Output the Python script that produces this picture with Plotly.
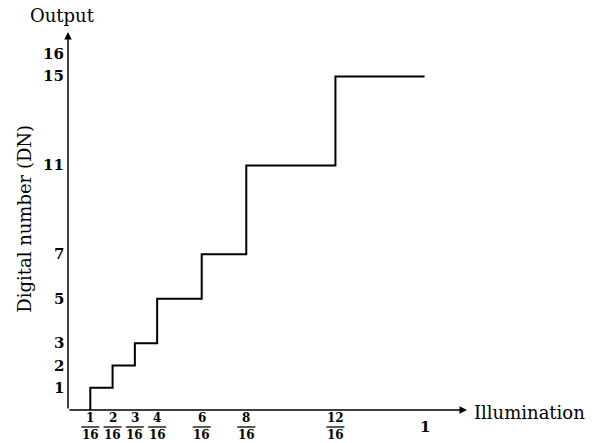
import plotly.graph_objects as go

# Data
step_numerators = [1, 2, 3, 4, 6, 8, 12, 16]   # illumination breakpoints (in 1/16)
step_levels = [0, 1, 2, 3, 5, 7, 11, 15]       # DN level reached at each breakpoint
y_ticks = [1, 2, 3, 5, 7, 11, 15, 16]
x_tick_nums = [1, 2, 3, 4, 6, 8, 12]
x_tick_den = 16

FONT = "DejaVu Serif"
x_vals = [n / 16 for n in step_numerators]

fig = go.Figure()
fig.add_trace(go.Scatter(
    x=x_vals, y=step_levels, mode="lines", line_shape="vh",
    line=dict(color="black", width=2), hoverinfo="skip", showlegend=False,
))

XMAX, YMAX = 1.119, 17.0
ann = []
shapes = []
# axes with arrows
ann.append(dict(x=XMAX, y=0, ax=0, ay=0, xref="x", yref="y", axref="x", ayref="y",
                text="", showarrow=True, arrowhead=2, arrowsize=1, arrowwidth=1.5,
                arrowcolor="black"))
ann.append(dict(x=0, y=YMAX, ax=0, ay=0, xref="x", yref="y", axref="x", ayref="y",
                text="", showarrow=True, arrowhead=2, arrowsize=1, arrowwidth=1.5,
                arrowcolor="black"))
# x fraction labels
for n in x_tick_nums:
    t = n / x_tick_den
    ann.append(dict(x=t, y=0, xref="x", yref="y", yshift=-8, yanchor="middle",
                    text="<b>%d</b>" % n, showarrow=False, font=dict(family=FONT, size=12, color="black")))
    ann.append(dict(x=t, y=0, xref="x", yref="y", yshift=-25, yanchor="middle",
                    text="<b>%d</b>" % x_tick_den, showarrow=False, font=dict(family=FONT, size=12, color="black")))
    shapes.append(dict(type="line", xref="x", yref="paper", xsizemode="pixel", ysizemode="pixel",
                       xanchor=t, yanchor=0, x0=-9, x1=9, y0=-17, y1=-17,
                       line=dict(color="black", width=1.3)))
ann.append(dict(x=1.0, y=0, xref="x", yref="y", yshift=-17, yanchor="middle",
                text="<b>1</b>", showarrow=False, font=dict(family=FONT, size=15, color="black")))
# y tick labels
for v in y_ticks:
    ann.append(dict(x=0, y=v, xref="x", yref="y", xshift=-2, xanchor="right", yanchor="middle",
                    text="<b>%d</b>" % v, showarrow=False, font=dict(family=FONT, size=15, color="black")))
# axis titles
ann.append(dict(x=0, y=YMAX, xref="x", yref="y", xshift=-6, yshift=17, yanchor="middle",
                text="Output", showarrow=False, font=dict(family=FONT, size=18, color="black")))
ann.append(dict(x=XMAX, y=0, xref="x", yref="y", xshift=5, yshift=-2, xanchor="left", yanchor="middle",
                text="Illumination", showarrow=False, font=dict(family=FONT, size=18, color="black")))
ann.append(dict(x=0, y=8.6, xref="x", yref="y", xshift=-43, textangle=-90, xanchor="center",
                yanchor="middle", text="Digital number (DN)", showarrow=False,
                font=dict(family=FONT, size=18, color="black")))

fig.update_layout(
    width=598, height=443,
    margin=dict(l=68, r=131, t=32, b=33),
    paper_bgcolor="white", plot_bgcolor="white",
    xaxis=dict(range=[0, XMAX], visible=False, fixedrange=True),
    yaxis=dict(range=[0, YMAX], visible=False, fixedrange=True),
    annotations=ann, shapes=shapes,
)
fig.write_html("out.html", config={"displayModeBar": False},
               post_script="document.body.style.margin='0';document.body.style.overflow='hidden';")
